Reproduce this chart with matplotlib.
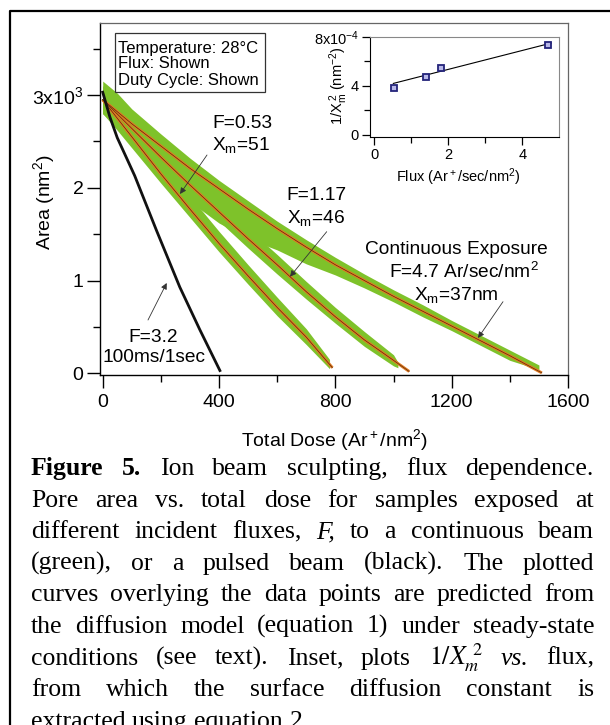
"""
Pore area vs total dose (ion beam sculpting, flux dependence) with
1/Xm^2 vs flux inset and the figure caption underneath.
Writes out.png (610x725).
"""

import matplotlib
matplotlib.use('Agg')
import matplotlib.pyplot as plt
from matplotlib.lines import Line2D
from matplotlib.patches import Rectangle
from matplotlib.ticker import MultipleLocator

W, H = 610, 725

plt.rcParams['font.family'] = ['Liberation Sans', 'DejaVu Sans']
plt.rcParams['mathtext.fontset'] = 'custom'
plt.rcParams['mathtext.rm'] = 'Liberation Sans'
plt.rcParams['mathtext.it'] = 'Liberation Sans:italic'
plt.rcParams['mathtext.bf'] = 'Liberation Sans:bold'

GREEN  = '#7ec22a'
ORANGE = '#e07a22'
CORE   = '#5a2a0a'

# ---- continuous beam, F=4.7 (top) ----
T_X    = [0, 50, 100, 200, 300, 400, 500, 600, 700, 800, 900, 1000, 1100, 1200, 1300, 1400, 1500]
T_HI   = [3150, 3020, 2850, 2580, 2320, 2080, 1860, 1640, 1440, 1250, 1070, 900, 740, 570, 410, 250, 90]
T_LO   = [2800, 2650, 2450, 2150, 1850, 1620, 1450, 1330, 1180, 1060, 920, 770, 610, 460, 300, 140, 40]
T_FITX = [0, 100, 200, 300, 400, 500, 600, 700, 800, 900, 1000, 1100, 1200, 1300, 1400, 1510]
T_FITY = [2950, 2690, 2450, 2210, 1990, 1770, 1560, 1360, 1170, 1000, 830, 670, 510, 350, 190, 5]

# ---- F=1.17 (middle) ----
M_X    = [0, 50, 100, 200, 300, 400, 500, 600, 700, 800, 900, 1000, 1015]
M_HI   = [3100, 2930, 2780, 2460, 2150, 1860, 1560, 1280, 990, 710, 450, 200, 120]
M_LO   = [2800, 2680, 2540, 2220, 1930, 1640, 1350, 1070, 800, 540, 290, 80, 60]
M_FITX = [0, 100, 200, 300, 400, 500, 600, 700, 800, 900, 1000, 1054]
M_FITY = [2950, 2640, 2330, 2030, 1740, 1450, 1170, 880, 610, 360, 140, 20]

# ---- F=0.53 (bottom green) ----
B_X    = [0, 50, 100, 200, 300, 400, 500, 600, 700, 780]
B_HI   = [3100, 2900, 2700, 2300, 1910, 1530, 1170, 820, 480, 150]
B_LO   = [2800, 2620, 2430, 2050, 1680, 1310, 960, 620, 310, 50]
B_FITX = [0, 100, 200, 300, 400, 500, 600, 700, 790]
B_FITY = [2950, 2550, 2150, 1770, 1400, 1050, 710, 390, 60]

# ---- pulsed beam, F=3.2 (black) ----
P_X = [0, 25, 50, 110, 185, 265, 334, 403]
P_Y = [3030, 2760, 2540, 2130, 1540, 930, 470, 30]

# ---- inset: 1/Xm^2 (x1e-4 nm^-2) vs flux ----
FLUX    = [0.55, 1.41, 1.81, 4.69]
INV_XM2 = [3.84, 4.74, 5.42, 7.29]
FIT_FLUX = [0.52, 4.78]
FIT_INV  = [4.19, 7.48]

X_TICKS = [0, 400, 800, 1200, 1600]
Y_TICKS = [0, 1000, 2000, 3000]
Y_TICKLABELS = ['0', '1', '2', '3x10$^3$']

BOX_LINES = ['Temperature: 28°C', 'Flux: Shown', 'Duty Cycle: Shown']

CAPTION = [
    [('Figure', 'b'), ('5.', 'b'), 'Ion', 'beam', 'sculpting,', 'flux', 'dependence.'],
    ['Pore', 'area', 'vs.', 'total', 'dose', 'for', 'samples', 'exposed', 'at'],
    ['different', 'incident', 'fluxes,', ('F,', 'i'), 'to', 'a', 'continuous', 'beam'],
    ['(green),', 'or', 'a', 'pulsed', 'beam', '(black).', 'The', 'plotted'],
    ['curves', 'overlying', 'the', 'data', 'points', 'are', 'predicted', 'from'],
    ['the', 'diffusion', 'model', '(equation', '1)', 'under', 'steady-state'],
    ['conditions', '(see', 'text).', 'Inset,', 'plots', (r'$\mathit{1/X_m^{\ 2}}$', 'm'),
     ('vs.', 'i'), 'flux,'],
    ['from', 'which', 'the', 'surface', 'diffusion', 'constant', 'is'],
    ['extracted', 'using', 'equation', '2.'],
]


def P(x, y):
    """pixel position (top-left origin) -> figure fraction"""
    return (x / W, 1 - y / H)


fig = plt.figure(figsize=(W / 100, H / 100), dpi=100)
fig.patch.set_facecolor('white')

# ---------------- main axes ----------------
ax = fig.add_axes([99.5 / W, 1 - 375 / H, (568 - 99.5) / W, (375 - 23) / H])
for xs, lo, hi in [(T_X, T_LO, T_HI), (M_X, M_LO, M_HI), (B_X, B_LO, B_HI)]:
    ax.fill_between(xs, lo, hi, color=GREEN, lw=0, zorder=1)
for xs, ys in [(T_FITX, T_FITY), (M_FITX, M_FITY), (B_FITX, B_FITY)]:
    ax.plot(xs, ys, color=ORANGE, lw=2.1, solid_capstyle='butt', zorder=3)
    ax.plot(xs, ys, color=CORE, lw=0.5, zorder=4)
ax.plot(P_X, P_Y, color='#111111', lw=2.0, zorder=5)

ax.set_xlim(-11, 1600)
ax.set_ylim(-18, 3776)
ax.set_xticks(X_TICKS)
ax.set_yticks(Y_TICKS)
ax.set_yticklabels(Y_TICKLABELS)
ax.xaxis.set_minor_locator(MultipleLocator(200))
ax.yaxis.set_minor_locator(MultipleLocator(500))
ax.tick_params(which='major', direction='out', length=9.5, width=1, labelsize=14)
ax.tick_params(which='minor', direction='out', length=5, width=1)
ax.tick_params(axis='x', pad=4)
ax.tick_params(axis='y', pad=2)
for s in ['top', 'right']:
    ax.spines[s].set_color('#666666')
    ax.spines[s].set_linewidth(0.9)
for s in ['left', 'bottom']:
    ax.spines[s].set_linewidth(1.0)

fig.text(*P(334, 440), 'Total Dose (Ar$^+$/nm$^2$)', fontsize=14, ha='center', va='center')
fig.text(*P(44, 202), 'Area (nm$^2$)', fontsize=14, rotation=90, ha='center', va='center')

# annotations
AFS = 13.8
arrow = dict(arrowstyle='-|>', color='#333333', lw=0.6, mutation_scale=9, shrinkA=0, shrinkB=0)
fig.text(*P(212, 123), 'F=0.53', fontsize=AFS, ha='left', va='center')
fig.text(*P(212, 145), 'X$_\\mathregular{m}$=51', fontsize=AFS, ha='left', va='center')
fig.text(*P(316.5, 196), 'F=1.17', fontsize=AFS, ha='center', va='center')
fig.text(*P(316.5, 218), 'X$_\\mathregular{m}$=46', fontsize=AFS, ha='center', va='center')
fig.text(*P(153.5, 337), 'F=3.2', fontsize=AFS, ha='center', va='center')
fig.text(*P(154, 357), '100ms/1sec', fontsize=AFS, ha='center', va='center')
fig.text(*P(456, 250), 'Continuous Exposure', fontsize=AFS, ha='center', va='center')
fig.text(*P(464, 272), 'F=4.7 Ar/sec/nm$^2$', fontsize=AFS, ha='center', va='center')
fig.text(*P(456, 295), 'X$_\\mathregular{m}$=37nm', fontsize=AFS, ha='center', va='center')
for tail, tip in [((207, 155), (180, 194)), ((326.7, 231.7), (290, 276.7)),
                  ((148, 320), (166.7, 283)), ((503, 301.7), (478, 338))]:
    ax.annotate('', xy=P(*tip), xycoords=fig.transFigure,
                xytext=P(*tail), textcoords=fig.transFigure, arrowprops=arrow)

# condition box
x0, y0 = P(115, 91.7)
fig.add_artist(Rectangle((x0, y0), (264.6 - 115) / W, (91.7 - 33.3) / H,
                         transform=fig.transFigure, facecolor='white',
                         edgecolor='#333333', lw=0.9))
for i, line in enumerate(BOX_LINES):
    fig.text(*P(118, 48 + 16 * i), line, fontsize=12, ha='left', va='center')

# ---------------- inset ----------------
axi = fig.add_axes([370 / W, 1 - 136.5 / H, 189 / W, 99.8 / H])
axi.plot(FIT_FLUX, FIT_INV, color='black', lw=0.8)
axi.plot(FLUX, INV_XM2, ls='none', marker='s', ms=4.3, mfc='#b8b8e8',
         mec='#23237a', mew=1.3)
axi.set_xlim(-0.11, 4.99)
axi.set_ylim(-0.14, 8)
axi.set_xticks([0, 2, 4])
axi.set_yticks([0, 4, 8])
axi.set_yticklabels(['0', '4', '8x10$^{-4}$'])
axi.xaxis.set_minor_locator(MultipleLocator(1))
axi.yaxis.set_minor_locator(MultipleLocator(2))
axi.tick_params(which='major', direction='out', length=6, width=0.9, labelsize=10.5, pad=2)
axi.tick_params(which='minor', direction='out', length=4.5, width=0.9)
for s in ['top', 'right']:
    axi.spines[s].set_color('#888888')
    axi.spines[s].set_linewidth(0.8)
fig.text(*P(458, 177), 'Flux (Ar$^+$/sec/nm$^2$)', fontsize=10.5, ha='center', va='center')
fig.text(*P(339, 86), '1/X$_\\mathregular{m}^{\\ 2}$ (nm$^{-2}$)', fontsize=10.5,
         rotation=90, ha='center', va='center')

# ---------------- outer frame ----------------
fig.add_artist(Line2D([1, 10 / W, 10 / W], [1 - 11 / H, 1 - 11 / H, 0],
                      transform=fig.transFigure, color='black', lw=1.6))

# ---------------- caption (justified) ----------------
CFS = 18.5
LEFT, RIGHT = 31, 594
renderer = fig.canvas.get_renderer()
for li, line in enumerate(CAPTION):
    base = 475 + 31.6 * li
    arts = []
    for tok in line:
        s, style = (tok, '') if isinstance(tok, str) else tok
        kw = dict(fontsize=CFS, family='Liberation Serif', ha='left', va='baseline')
        if style == 'b':
            kw['fontweight'] = 'bold'
        elif style == 'i':
            kw['fontstyle'] = 'italic'
        elif style == 'm':
            kw['math_fontfamily'] = 'stix'
        arts.append(fig.text(0, 1 - base / H, s, **kw))
    widths = [a.get_window_extent(renderer).width for a in arts]
    if li < len(CAPTION) - 1:
        gap = (RIGHT - LEFT - sum(widths)) / (len(arts) - 1)
    else:
        gap = fig.text(0, 0, ' ', fontsize=CFS, family='Liberation Serif').get_window_extent(renderer).width
    x = LEFT
    for a, w in zip(arts, widths):
        a.set_x(x / W)
        x += w + gap

fig.savefig('out.png', dpi=100)
